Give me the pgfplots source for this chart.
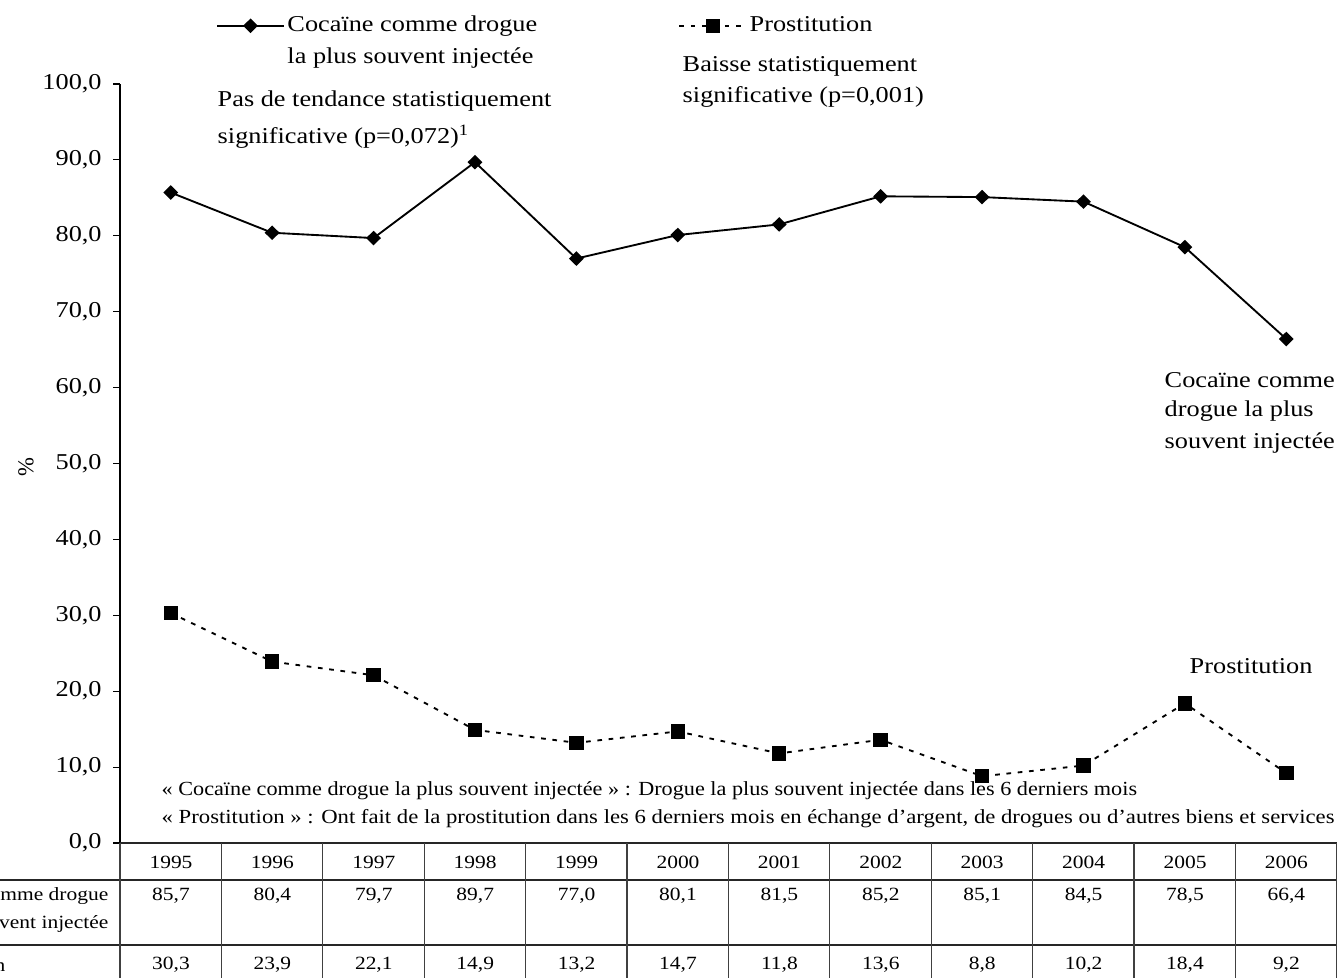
\documentclass[border=0pt]{standalone}
\usepackage{graphicx}
\usepackage{pgfplots}
\pgfplotsset{compat=1.18}
\usepackage{fontspec}
\setmainfont{Liberation Serif}
\newcommand{\bigf}{\fontsize{17}{24}\selectfont}
\newcommand{\hs}[1]{\scalebox{1.16}[1]{#1}}
\newcommand{\footf}{\fontsize{15}{18}\selectfont}
\newcommand{\fs}[1]{\scalebox{1.11}[1]{#1}}
\newcommand{\tabf}{\fontsize{14}{17}\selectfont}
\newcommand{\ts}[1]{\scalebox{1.15}[1]{#1}}
\pgfplotsset{
  legcoc/.style={legend image code/.code={\draw[mark repeat=2,mark phase=2,##1] plot coordinates {(0pt,4.3pt)(25pt,4.3pt)(50pt,4.3pt)};}},
  legpro/.style={legend image code/.code={\draw[mark repeat=2,mark phase=2,##1] plot coordinates {(0pt,4.3pt)(25pt,4.3pt)(50pt,4.3pt)};}},
}
\begin{document}
\begin{tikzpicture}[x=0.75pt,y=0.75pt]
\useasboundingbox (0,0) rectangle (1337,977);
\clip (0,0) rectangle (1337,977);
\begin{axis}[
  at={(90pt,100.5pt)}, anchor=south west,
  scale only axis, width=912.75pt, height=569.25pt,
  xmin=-0.5, xmax=11.5, ymin=0, ymax=100,
  axis lines*=left,
  xtick=\empty,
  ytick={0,10,...,100},
  tick align=outside, ytick pos=left,
  major tick length=5.25pt,
  axis line style={line width=0.9pt},
  tick style={black, line width=0.8pt},
  yticklabel style={xshift=-5pt},
  yticklabel={\bigf\hs{\pgfmathprintnumber[fixed,fixed zerofill,precision=1,use comma,assume math mode=true]{\tick}}},
  legend columns=2,
  legend style={at={(0.0756,1.106)}, anchor=north west, draw=none, fill=none,
     cells={anchor=base west},
     /tikz/every even column/.append style={column sep=104pt}},
]
\addplot[black, line width=1.4pt, mark=diamond*, mark size=4.5pt, mark options={xscale=1.35}, legcoc]
  coordinates {(0,85.7)(1,80.4)(2,79.7)(3,89.7)(4,77.0)(5,80.1)(6,81.5)(7,85.2)(8,85.1)(9,84.5)(10,78.5)(11,66.4)};
\addlegendentry{\bigf\hs{\begin{tabular}[t]{@{}l@{}}Cocaïne comme drogue\\la plus souvent injectée\end{tabular}}}
\addplot[black, line width=1.4pt, dash pattern=on 3.5pt off 5pt, mark=square*, mark size=4.7pt, mark options={solid}, legpro]
  coordinates {(0,30.3)(1,23.9)(2,22.1)(3,14.9)(4,13.2)(5,14.7)(6,11.8)(7,13.6)(8,8.8)(9,10.2)(10,18.4)(11,9.2)};
\addlegendentry{\bigf\hs{Prostitution}}
\end{axis}
\begin{scope}[shift={(0,977)}, yscale=-1]
% y label
\node[rotate=90, font=\bigf] at (26,467) {\%};
% annotations
\node[anchor=west, font=\bigf] at (213,101) {\hs{Pas de tendance statistiquement}};
\node[anchor=west, font=\bigf] at (213,137) {\hs{significative (p=0,072)\textsuperscript{1}}};
\node[anchor=west, font=\bigf] at (678,66) {\hs{Baisse statistiquement}};
\node[anchor=west, font=\bigf] at (678,97) {\hs{significative (p=0,001)}};
\node[anchor=west, font=\bigf] at (1160,380) {\hs{Cocaïne comme}};
\node[anchor=west, font=\bigf] at (1160,411) {\hs{drogue la plus}};
\node[anchor=west, font=\bigf] at (1160,443) {\hs{souvent injectée}};
\node[anchor=west, font=\bigf] at (1185,666) {\hs{Prostitution}};
\node[anchor=west, font=\footf] at (157,791) {\fs{« Cocaïne comme drogue la plus souvent injectée » : Drogue la plus souvent injectée dans les 6 derniers mois}};
\node[anchor=west, font=\footf] at (157,819) {\scalebox{1.135}[1]{« Prostitution » : Ont fait de la prostitution dans les 6 derniers mois en échange d'argent, de drogues ou d'autres biens et services}};
% table
\draw[black!85, line width=0.9pt] (120,843) -- (1337,843);
\draw[black!85, line width=0.9pt] (0,880) -- (1337,880);
\draw[black!85, line width=0.9pt] (0,945) -- (1337,945);
\foreach \k in {0,...,12} {
  \draw[black!75, line width=0.9pt] ({120+101.4*\k},843) -- ({120+101.4*\k},980);
}
\foreach \yr [count=\i from 0] in {1995,1996,1997,1998,1999,2000,2001,2002,2003,2004,2005,2006} {
  \node[font=\tabf] at ({171+101.4*\i},862) {\ts{\yr}};
}
\foreach \v [count=\i from 0] in {{85,7},{80,4},{79,7},{89,7},{77,0},{80,1},{81,5},{85,2},{85,1},{84,5},{78,5},{66,4}} {
  \node[font=\tabf] at ({171+101.4*\i},896) {\ts{\v}};
}
\foreach \v [count=\i from 0] in {{30,3},{23,9},{22,1},{14,9},{13,2},{14,7},{11,8},{13,6},{8,8},{10,2},{18,4},{9,2}} {
  \node[font=\tabf] at ({171+101.4*\i},965) {\ts{\v}};
}
\node[anchor=east, font=\tabf] at (113,896) {\ts{Cocaïne comme drogue}};
\node[anchor=east, font=\tabf] at (113,924) {\ts{la plus souvent injectée}};
\node[anchor=east, font=\tabf] at (10,965) {\ts{Prostitution}};
\end{scope}
\end{tikzpicture}
\end{document}
